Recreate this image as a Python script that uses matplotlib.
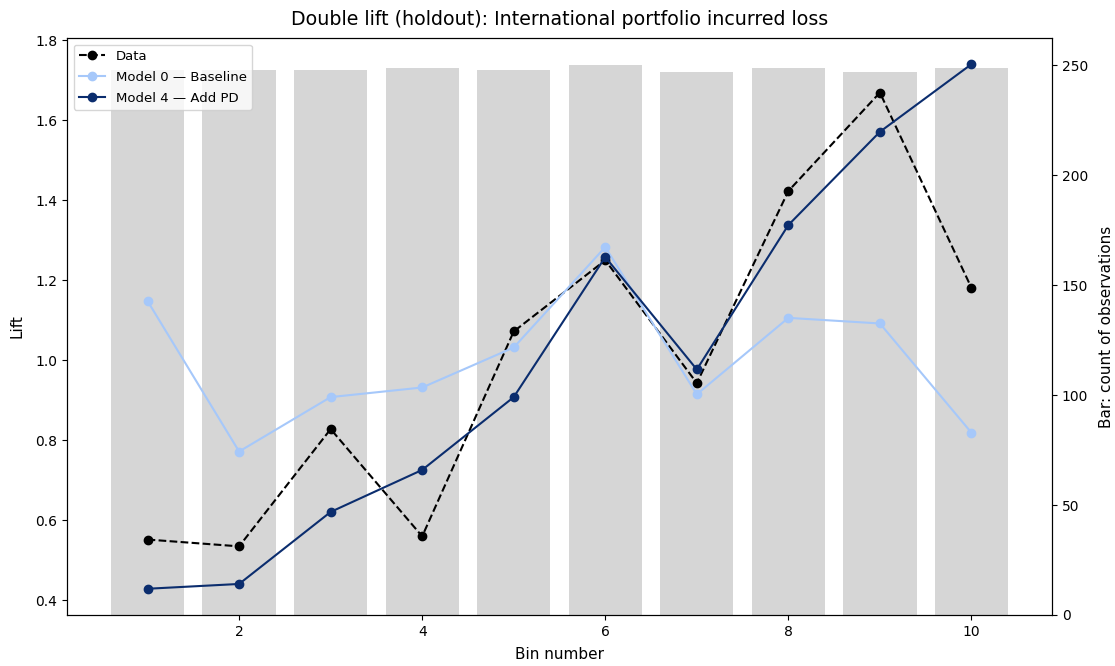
import numpy as np
import matplotlib
matplotlib.use("Agg")
from matplotlib import pyplot as plt

bins = [1, 2, 3, 4, 5, 6, 7, 8, 9, 10]
counts = [248, 248, 248, 249, 248, 250, 247, 249, 247, 249]
data_lift = [0.552, 0.535, 0.828, 0.560, 1.072, 1.250, 0.943, 1.423, 1.669, 1.181]
model0_lift = [1.148, 0.772, 0.908, 0.932, 1.032, 1.283, 0.915, 1.106, 1.092, 0.819]
model4_lift = [0.429, 0.441, 0.621, 0.726, 0.908, 1.258, 0.977, 1.338, 1.571, 1.740]

LIGHT = '#a6c8fa'
DARK = '#0b2d6e'

fig, ax = plt.subplots(figsize=(11.15, 6.66), dpi=100)
fig.subplots_adjust(left=0.0601, right=0.9435, top=0.943, bottom=0.0766)

# bars on the twin axis, lines drawn on top
axb = ax.twinx()
axb.bar(bins, counts, width=0.8, color='#d6d6d6')
axb.set_ylabel('Bar: count of observations', fontsize=11, labelpad=8)
ax.set_zorder(axb.get_zorder() + 1)
ax.patch.set_visible(False)

ax.plot(bins, data_lift, 'o--', color='black', lw=1.5, label='Data')
ax.plot(bins, model0_lift, 'o-', color=LIGHT, lw=1.5, label='Model 0 \u2014 Baseline')
ax.plot(bins, model4_lift, 'o-', color=DARK, lw=1.5, label='Model 4 \u2014 Add PD')

ax.set_xlim(0.12, 10.88)
ax.set_xlabel('Bin number', fontsize=11, labelpad=6)
ax.set_ylabel('Lift', fontsize=11, labelpad=8)
ax.set_title('Double lift (holdout): International portfolio incurred loss', fontsize=13.7, pad=9)
ax.legend(loc='upper left', fontsize=9.5, labelspacing=0.6)

fig.savefig('out.png', dpi=100)
